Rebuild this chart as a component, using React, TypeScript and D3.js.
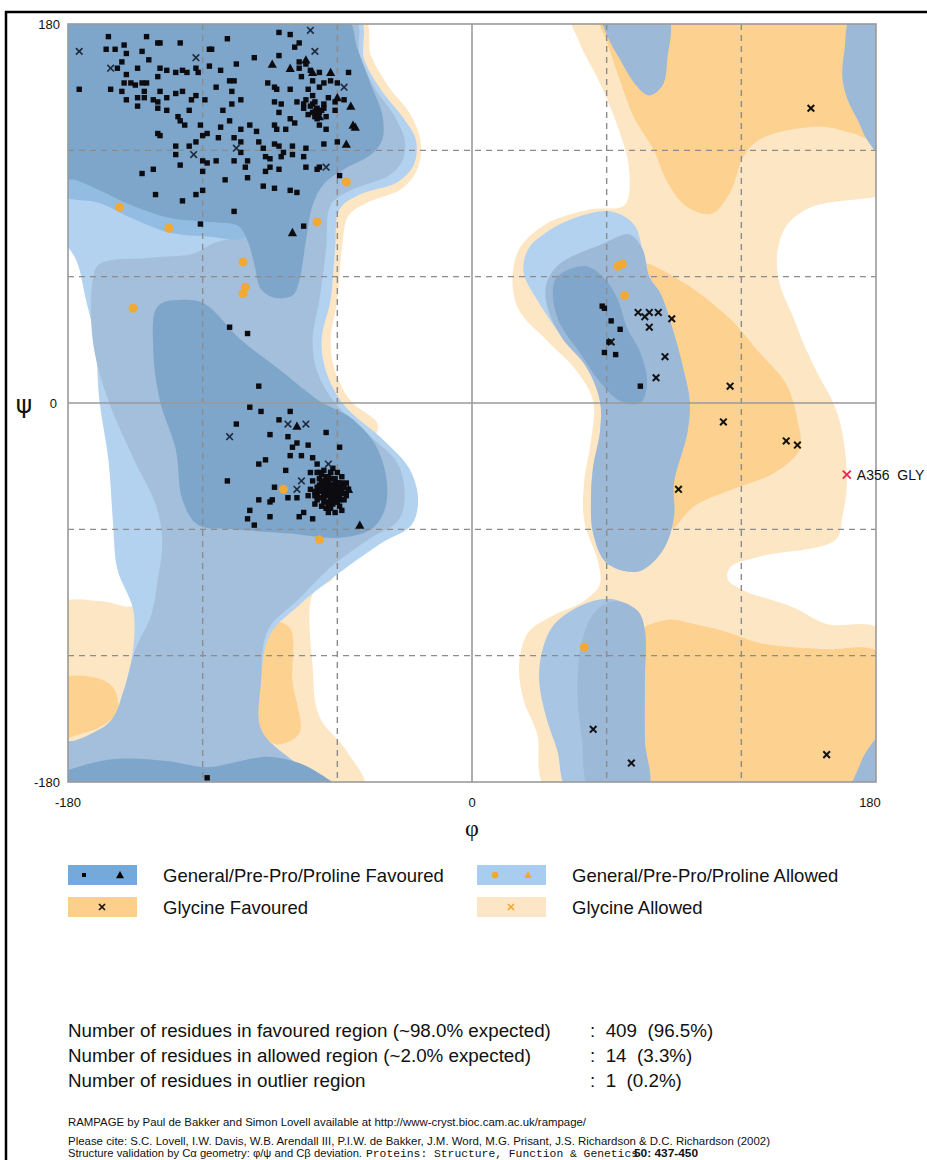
import React from 'react';
import * as d3 from 'd3';

type P = [number, number];

// ---------------- axis data ----------------
const xTickValues = [-180, 0, 180];
const yTickValues = [180, 0, -180];
const dashedPhi = [-120, -60, 60, 120];
const dashedPsi = [120, 60, -60, -120];

// ---------------- region outlines (phi, psi) ----------------
const glyAllowedLeft: P[] = [[-184,184],[-49,184],[-45,165],[-37,150],[-28,138],[-23,125],[-24,112],[-31,102],[-47,95],[-55,89],[-58,73],[-60,49],[-63,30],[-61,15],[-54,1],[-42,-10],[-45,-18],[-57,-18],[-77,-37],[-77,-75],[-62,-83],[-71,-91],[-71,-125],[-68,-149],[-56,-165],[-48,-184],[-184,-184],[-184,-96],[-166,-94],[-150,-96],[-139,-75],[-135,1],[-143,49],[-166,73],[-184,89]];
const glyAllowedRight: P[] = [[45,184],[182,184],[182,99],[180,98],[151,93],[140,84],[136,71],[137,57],[143,41],[149,25],[155,12],[161,0],[165,-14],[167,-38],[165,-54],[162,-65],[128,-73],[115,-78],[114,-84],[121,-89],[143,-97],[158,-105],[182,-108],[182,-184],[34,-184],[29,-157],[23,-141],[21,-125],[25,-109],[36,-101],[50,-94],[57,-86],[56,-75],[50,-56],[50,-37],[53,-18],[54,1],[46,16],[33,30],[21,44],[18,58],[21,73],[33,85],[53,92],[68,94],[70,111],[66,128],[57,152],[48,171]];
const glyFavLeftA: P[] = [[-184,-132],[-170,-130],[-160,-135],[-158,-147],[-166,-154],[-177,-158],[-184,-160]];
const glyFavLeftB: P[] = [[-97,-113],[-89,-104],[-81,-107],[-80,-132],[-77,-157],[-88,-162],[-97,-150]];
const glyFavRightTop: P[] = [[57,184],[182,184],[182,125],[170,128],[158,131],[143,130],[128,125],[121,117],[115,100],[107,90],[96,93],[87,105],[81,120],[72,136],[66,153],[60,172]];
const glyFavRightMid: P[] = [[75,66],[93,58],[114,41],[128,24],[140,9],[145,-8],[146,-22],[135,-33],[116,-41],[99,-49],[88,-60],[84,-22],[84,25]];
const glyFavRightBottom: P[] = [[70,-113],[87,-103],[99,-105],[114,-109],[128,-114],[143,-116],[158,-117],[182,-119],[182,-184],[70,-184]];

const genAllowedLeft: P[] = [[-184,184],[-51,184],[-48,163],[-40,148],[-31,136],[-25,125],[-26,113],[-33,105],[-50,99],[-59,92],[-61,73],[-63,49],[-67,30],[-65,15],[-57,-1],[-39,-18],[-28,-31],[-24,-46],[-27,-58],[-41,-67],[-62,-83],[-77,-96],[-90,-110],[-94,-132],[-94,-155],[-81,-169],[-59,-184],[-184,-184],[-184,-162],[-176,-160],[-161,-151],[-155,-136],[-151,-117],[-151,-98],[-158,-79],[-160,-56],[-162,-27],[-166,1],[-168,30],[-172,49],[-176,67],[-184,83]];
const genMidLeft: P[] = [[-184,184],[-53,184],[-50,165],[-43,149],[-35,137],[-30,125],[-31,115],[-37,108],[-54,101],[-63,94],[-65,73],[-68,49],[-71,30],[-69,15],[-61,0],[-45,-16],[-33,-29],[-30,-45],[-33,-56],[-45,-64],[-63,-78],[-77,-93],[-91,-108],[-94,-132],[-94,-155],[-81,-169],[-59,-184],[-184,-184],[-184,-162],[-176,-160],[-161,-151],[-155,-136],[-150,-117],[-143,-101],[-140,-84],[-138,-65],[-141,-48],[-151,-26],[-163,4],[-169,30],[-169,58],[-166,66],[-143,69],[-124,71],[-115,76],[-101,81],[-99,94],[-184,120]];
const brightBand: P[] = [[-184,111],[-184,99],[-166,95],[-152,88],[-135,81],[-117,79],[-103,78],[-99,82],[-103,89],[-121,91],[-143,96],[-166,106]];
const darkBeta: P[] = [[-184,184],[-57,184],[-51,168],[-45,151],[-40,137],[-40,125],[-45,118],[-57,111],[-66,104],[-71,94],[-74,77],[-77,58],[-80,51],[-88,50],[-94,54],[-97,66],[-100,77],[-104,84],[-117,86],[-135,88],[-152,94],[-166,101],[-177,106],[-184,107]];
const darkAlpha: P[] = [[-140,46],[-128,49],[-119,47],[-103,30],[-86,16],[-68,1],[-54,-7],[-43,-20],[-38,-37],[-39,-51],[-45,-60],[-59,-64],[-81,-62],[-106,-60],[-122,-58],[-129,-46],[-132,-22],[-139,1],[-142,25]];
const darkBottom: P[] = [[-184,-184],[-184,-177],[-176,-173],[-158,-169],[-136,-170],[-118,-173],[-103,-170],[-91,-168],[-77,-171],[-68,-176],[-59,-184]];

const lobeUpperSky: P[] = [[62,91],[72,85],[76,73],[79,60],[84,52],[90,33],[94,17],[97,1],[96,-14],[90,-38],[90,-54],[85,-70],[74,-80],[60,-76],[54,-62],[53,-46],[54,-30],[57,-14],[57,1],[51,17],[39,33],[29,49],[23,62],[25,73],[33,81],[46,88]];
const lobeUpperMid: P[] = [[70,80],[76,73],[79,60],[84,52],[90,33],[94,17],[97,1],[96,-14],[90,-38],[90,-54],[85,-70],[74,-80],[60,-76],[54,-62],[53,-46],[54,-30],[57,-14],[57,1],[51,17],[40,31],[34,44],[33,56],[39,66],[57,75]];
const lobeUpperDark: P[] = [[38,60],[51,65],[60,58],[65,49],[69,36],[75,24],[78,10],[75,0],[66,1],[57,10],[48,24],[39,38],[36,52]];
const lobeLowerSky: P[] = [[60,-93],[68,-95],[74,-99],[77,-108],[77,-132],[77,-160],[78,-184],[43,-184],[38,-165],[33,-149],[30,-133],[31,-119],[36,-106],[47,-97]];
const lobeLowerMid: P[] = [[64,-94],[74,-99],[77,-108],[77,-132],[77,-160],[78,-184],[53,-184],[49,-160],[47,-136],[49,-113],[55,-99]];
const topBlobRight: P[] = [[58,184],[87,184],[87,163],[85,151],[79,146],[73,151],[66,163],[60,175]];
const rightStrip: P[] = [[169,184],[166,168],[165,155],[167,145],[172,134],[176,125],[182,118],[182,184]];
const bottomRightCorner: P[] = [[169,-184],[172,-174],[176,-165],[182,-158],[182,-184]];

// ---------------- residues (phi, psi) ----------------
const favouredSquares: P[] = [
  [-86,176],[-81,175],[-109,173],[-145,174],[-162,174],
  [-140,171],[-139,171],[-130,171],[-77,171],[-79,169],
  [-163,168],[-159,168],[-155,170],[-117,168],[-116,168],[-86,165],[-97,164],
  [-154,166],[-147,167],
  [-156,162],[-144,163],[-117,160],[-105,161],[-77,162],[-74,161],
  [-158,159],[-149,159],[-139,159],[-136,158],[-132,157],[-129,158],[-127,157],[-123,159],[-122,157],[-112,158],[-77,159],[-72,158],[-68,157],[-55,157],
  [-154,156],[-140,155],[-108,153],[-106,153],[-91,152],[-88,150],[-76,155],[-71,153],[-66,152],[-63,153],[-60,152],
  [-155,152],[-152,152],[-150,151],[-147,152],[-145,152],
  [-175,149],[-161,149],[-156,148],[-146,148],[-139,148],[-114,150],[-107,148],[-87,149],[-81,149],[-73,149],[-68,150],
  [-154,144],[-149,145],[-146,145],[-142,144],[-140,143],[-136,145],[-132,147],[-129,148],[-125,144],[-123,146],[-119,144],[-107,142],[-103,144],[-88,143],[-85,142],[-78,143],[-74,144],[-71,142],[-69,140],[-66,142],[-64,145],[-61,143],[-57,144],
  [-72,141],[-70,143],[-67,139],[-73,137],[-69,135],[-66,140],[-71,146],[-75,142],
  [-149,141],[-140,140],[-136,139],[-131,136],[-126,139],[-111,139],[-86,138],[-81,135],[-75,140],[-71,138],[-70,136],[-68,138],[-65,136],[-61,139],[-79,133],
  [-140,128],[-139,127],[-130,134],[-128,132],[-121,132],[-112,131],[-108,134],[-103,130],[-99,132],[-96,129],[-88,132],[-87,130],[-83,130],[-68,132],[-65,130],
  [-132,122],[-126,122],[-123,124],[-120,127],[-118,128],[-113,126],[-106,126],[-103,124],[-95,124],[-93,121],[-88,123],[-86,122],[-84,119],[-80,122],[-74,121],[-66,123],[-60,124],
  [-132,118],[-130,113],[-120,115],[-118,114],[-114,115],[-106,115],[-103,119],[-100,115],[-101,112],[-92,117],[-90,116],[-90,112],[-85,117],[-80,118],[-75,117],[-74,112],[-69,111],[-68,112],[-86,111],
  [-147,109],[-142,111],[-120,110],[-110,106],[-100,107],[-92,110],[-93,103],[-88,102],[-81,101],[-78,100],[-141,99],[-129,96],[-123,99],[-120,101],[-106,91],[-121,85],[-75,84],[-59,108],
  [-108,36],[-100,33],[-95,8],[-118,-178],
  [-99,-2],[-94,-4],[-81,-4],[-105,-10],[-86,-8],[-90,-15],[-82,-16],[-65,-14],[-59,-21],[-73,-20],[-80,-21],[-78,-19],
  [-109,-37],[-95,-29],[-92,-27],[-83,-32],[-81,-25],[-76,-25],[-71,-26],[-69,-29],[-72,-33],[-68,-33],[-63,-33],[-58,-38],
  [-95,-46],[-90,-47],[-89,-46],[-99,-51],[-100,-55],[-97,-58],[-90,-54],[-82,-45],[-78,-45],[-75,-52],[-77,-54],[-71,-55],[-88,-40],
  [-64,-41],[-62,-39],[-66,-43],[-60,-42],[-63,-45],[-67,-38],[-58,-40],[-61,-36],[-65,-35],[-69,-40],[-70,-44],[-59,-46],[-62,-48],[-66,-47],[-64,-37],[-57,-43],[-60,-38],[-68,-42],[-63,-33],[-61,-44],[-65,-50],[-71,-37],[-56,-38],[-58,-35],[-67,-45],[-62,-42],[-64,-44],[-60,-47],[-66,-40],[-69,-46],[-72,-41],[-55,-41],[-63,-39],[-59,-49],[-61,-40],[-65,-42],[-57,-46],[-68,-36],[-62,-31],[-70,-48],[-64,-52],[-67,-49],[-60,-33],[-56,-44],[-73,-44],[-66,-32],[-58,-51],[-63,-47],[-61,-52],[-69,-33],
  [-65,-39],[-63,-43],[-61,-38],[-67,-41],[-59,-44],[-62,-46],[-64,-35],[-66,-45],[-60,-40],[-58,-42],[-68,-39],[-63,-41],[-65,-47],[-61,-42],[-57,-40],[-64,-48],[-70,-42],[-62,-36],[-66,-37],[-60,-45],[-67,-34],[-59,-38],[-63,-50],[-69,-44],[-61,-47],
  [58,46],[59,45],[62,39],[66,35],[61,29],[59,24],[64,23],[75,8]
];
const favouredTriangles: P[] = [[-89,161],[-81,159],[-74,163],[-71,157],[-63,157],[-60,145],[-54,141],[-53,132],[-52,131],[-56,123],[-80,81],[-70,139],[-68,136],[-78,-11],[-50,-58],[-55,-41]];
const glycineCrosses: P[] = [
  [-175,167],[-161,159],[-123,164],[-72,177],[-70,167],[-57,150],[-105,121],[-124,118],[-65,112],
  [-108,-16],[-82,-10],[-74,-10],[-76,-37],[-78,-41],[-64,-29],
  [151,140],[74,43],[77,41],[79,43],[83,43],[89,40],[79,36],[62,29],[86,22],[82,12],[115,8],[112,-9],[140,-18],[145,-20],[92,-41],[54,-155],[71,-171],[158,-167]
];
const allowedCircles: P[] = [[-157,93],[-135,83],[-102,67],[-101,55],[-102,52],[-69,86],[-56,105],[-151,45],[-84,-41],[-68,-65],[65,65],[67,66],[68,51],[50,-116]];
const outlierPoints: P[] = [[167,-34]];
const outlierLabels = ['A356  GLY'];

// ---------------- legend / text ----------------
const legendLabels = ['General/Pre-Pro/Proline Favoured', 'General/Pre-Pro/Proline Allowed', 'Glycine Favoured', 'Glycine Allowed'];
const statLabels = [
  'Number of residues in favoured region (~98.0% expected)',
  'Number of residues in allowed region (~2.0% expected)',
  'Number of residues in outlier region',
];
const statValues = ['409  (96.5%)', '14  (3.3%)', '1  (0.2%)'];

const C = {
  glyAllowed: '#fde6c4',
  glyFav: '#fdd18f',
  sky: '#b3d2ef',
  mid: '#a3bfdb',
  band: '#93bce3',
  dark: '#7ea5ca',
  lobeMid: '#9db9d8',
  lobeDark: '#80a6cb',
};

const FONT = '"Liberation Sans", Arial, Helvetica, sans-serif';

export default function App() {
  const x = d3.scaleLinear().domain([-180, 180]).range([68, 876]);
  const y = d3.scaleLinear().domain([180, -180]).range([24, 782]);
  const line = d3.line<P>().x(d => x(d[0])).y(d => y(d[1])).curve(d3.curveCatmullRomClosed.alpha(0.5));

  const regions: { pts: P[]; fill: string }[] = [
    { pts: glyAllowedLeft, fill: C.glyAllowed },
    { pts: glyAllowedRight, fill: C.glyAllowed },
    { pts: glyFavLeftA, fill: C.glyFav },
    { pts: glyFavLeftB, fill: C.glyFav },
    { pts: glyFavRightTop, fill: C.glyFav },
    { pts: glyFavRightMid, fill: C.glyFav },
    { pts: glyFavRightBottom, fill: C.glyFav },
    { pts: genAllowedLeft, fill: C.sky },
    { pts: genMidLeft, fill: C.mid },
    { pts: brightBand, fill: C.band },
    { pts: darkBeta, fill: C.dark },
    { pts: darkAlpha, fill: C.dark },
    { pts: darkBottom, fill: C.dark },
    { pts: lobeUpperSky, fill: C.sky },
    { pts: lobeUpperMid, fill: C.lobeMid },
    { pts: lobeUpperDark, fill: C.lobeDark },
    { pts: lobeLowerSky, fill: '#a8c5e4' },
    { pts: lobeLowerMid, fill: C.lobeMid },
    { pts: topBlobRight, fill: C.lobeMid },
    { pts: rightStrip, fill: C.lobeMid },
    { pts: bottomRightCorner, fill: C.lobeMid },
  ];

  const [x0, x1] = x.range();
  const [y0, y1] = y.range();

  const cross = (cx: number, cy: number, r: number, color: string, w: number, key: string) => (
    <g key={key} stroke={color} strokeWidth={w} strokeLinecap="butt">
      <line x1={cx - r} y1={cy - r} x2={cx + r} y2={cy + r} />
      <line x1={cx - r} y1={cy + r} x2={cx + r} y2={cy - r} />
    </g>
  );
  const tri = (cx: number, cy: number, s: number) => `M${cx},${cy - s}L${cx + s},${cy + s * 0.8}L${cx - s},${cy + s * 0.8}Z`;

  return (
    <svg width={927} height={1160} style={{ position: 'absolute', left: 0, top: 0, display: 'block', background: '#fff' }} fontFamily={FONT}>
      <defs>
        <clipPath id="plotClip">
          <rect x={x0} y={y0} width={x1 - x0} height={y1 - y0} />
        </clipPath>
      </defs>
      {/* frame */}
      <line x1={5} y1={12} x2={927} y2={12} stroke="#000" strokeWidth={2.5} />
      <line x1={6} y1={11} x2={6} y2={1160} stroke="#000" strokeWidth={2.5} />

      {/* regions */}
      <g clipPath="url(#plotClip)">
        <rect x={x0} y={y0} width={x1 - x0} height={y1 - y0} fill="#fff" />
        {regions.map((r, i) => <path key={i} d={line(r.pts) || ''} fill={r.fill} />)}
      </g>

      {/* dashed grid */}
      <g stroke="#8c8c8c" strokeWidth={1.4} strokeDasharray="6,5">
        {dashedPhi.map(v => <line key={'dp' + v} x1={x(v)} x2={x(v)} y1={y0} y2={y1} />)}
        {dashedPsi.map(v => <line key={'ds' + v} x1={x0} x2={x1} y1={y(v)} y2={y(v)} />)}
      </g>
      {/* zero lines and border */}
      <g stroke="#9a9a9a" strokeWidth={1.6} fill="none">
        <line x1={x(0)} x2={x(0)} y1={y0} y2={y1} />
        <line x1={x0} x2={x1} y1={y(0)} y2={y(0)} />
        <rect x={x0} y={y0} width={x1 - x0} height={y1 - y0} />
      </g>

      {/* residues */}
      <g>
        {allowedCircles.map((d, i) => <circle key={'c' + i} cx={x(d[0])} cy={y(d[1])} r={4.5} fill="#f1a934" />)}
        {favouredSquares.map((d, i) => <rect key={'s' + i} x={x(d[0]) - 2.7} y={y(d[1]) - 2.7} width={5.4} height={5.4} fill="#0b0b10" />)}
        {favouredTriangles.map((d, i) => <path key={'t' + i} d={tri(x(d[0]), y(d[1]), 4.6)} fill="#0b0b10" />)}
        {glycineCrosses.map((d, i) => cross(x(d[0]), y(d[1]), 3.3, d[0] > 0 ? '#111' : '#1d2a3c', d[0] > 0 ? 2 : 1.6, 'x' + i))}
        {outlierPoints.map((d, i) => cross(x(d[0]), y(d[1]), 4, '#e0304e', 2, 'o' + i))}
        {outlierPoints.map((d, i) => (
          <text key={'ol' + i} x={x(d[0]) + 10} y={y(d[1]) + 5} fontSize={14} fill="#111" style={{ whiteSpace: 'pre' }}>{outlierLabels[i]}</text>
        ))}
      </g>

      {/* axis labels */}
      <g fontSize={13} fill="#111">
        {yTickValues.map(v => <text key={'yt' + v} x={v === 0 ? 57 : 60} y={y(v) + 5} textAnchor="end">{v}</text>)}
        {xTickValues.map(v => <text key={'xt' + v} x={v === 180 ? x(v) - 6 : x(v)} y={807} textAnchor="middle">{v}</text>)}
      </g>
      <text x={24} y={413} fontSize={25} textAnchor="middle" fontFamily='"DejaVu Sans", sans-serif' fill="#111">ψ</text>
      <text x={x(0)} y={836} fontSize={24} textAnchor="middle" fontFamily='"Liberation Serif", serif' fill="#111">φ</text>

      {/* legend */}
      <g>
        <rect x={68} y={865} width={69} height={20} fill="#74a9dc" />
        <rect x={84 - 2} y={873} width={4} height={4} fill="#000" />
        <path d={tri(120, 875, 4)} fill="#000" />
        <rect x={477} y={865} width={69} height={20} fill="#a9cdef" />
        <circle cx={495} cy={875} r={3.3} fill="#f1a934" />
        <path d={tri(528, 875, 3.8)} fill="#f1a934" />
        <rect x={68} y={897} width={69} height={20} fill="#fdcf8d" />
        {cross(102, 907, 3, '#111', 1.6, 'lg1')}
        <rect x={477} y={897} width={69} height={20} fill="#fde6c6" />
        {cross(511, 907, 3, '#f1a934', 1.6, 'lg2')}
        <text x={163} y={882} fontSize={18.5} fill="#111">{legendLabels[0]}</text>
        <text x={572} y={882} fontSize={18.5} fill="#111">{legendLabels[1]}</text>
        <text x={163} y={914} fontSize={18.5} fill="#111">{legendLabels[2]}</text>
        <text x={572} y={914} fontSize={18.5} fill="#111">{legendLabels[3]}</text>
      </g>

      {/* statistics */}
      <g fontSize={18.8} fill="#111">
        {statLabels.map((s, i) => <text key={'sl' + i} x={68} y={1037 + i * 25}>{s}</text>)}
        {statValues.map((s, i) => <text key={'sv' + i} x={590} y={1037 + i * 25} style={{ whiteSpace: 'pre' }}>{':  ' + s}</text>)}
      </g>

      {/* citation */}
      <g fontSize={11} fill="#111">
        <text x={68} y={1126} textLength={518} lengthAdjust="spacingAndGlyphs">RAMPAGE by Paul de Bakker and Simon Lovell available at http://www-cryst.bioc.cam.ac.uk/rampage/</text>
        <text x={68} y={1145} textLength={702} lengthAdjust="spacingAndGlyphs">Please cite: S.C. Lovell, I.W. Davis, W.B. Arendall III, P.I.W. de Bakker, J.M. Word, M.G. Prisant, J.S. Richardson &amp; D.C. Richardson (2002)</text>
        <text x={68} y={1157} textLength={294} lengthAdjust="spacingAndGlyphs">Structure validation by Cα geometry: φ/ψ and Cβ deviation.</text>
        <text x={366} y={1157} fontFamily='"Liberation Mono", "DejaVu Sans Mono", monospace' fontSize={11} textLength={272} lengthAdjust="spacingAndGlyphs">Proteins: Structure, Function &amp; Genetics</text>
        <text x={634} y={1157} fontWeight="bold" textLength={64} lengthAdjust="spacingAndGlyphs">50: 437-450</text>
      </g>
    </svg>
  );
}
